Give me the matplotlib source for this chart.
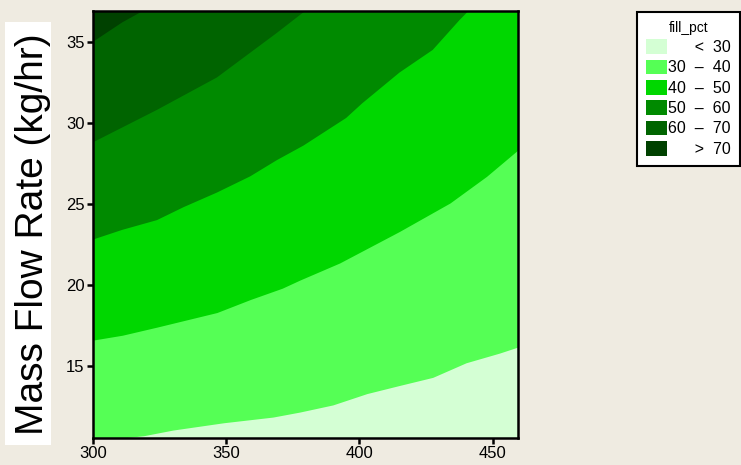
import numpy as np
import matplotlib
matplotlib.use("Agg")
import matplotlib.pyplot as plt
from matplotlib.patches import Patch, Rectangle

# contour boundaries (screw speed, mass flow rate)
x_b30 = [300, 311, 319, 330, 349, 367.5, 377.6, 390, 402.8, 415, 427.5, 440, 452.6, 460]
y_b30 = [10.3, 10.56, 10.7, 11.05, 11.5, 11.85, 12.16, 12.6, 13.3, 13.8, 14.3, 15.2, 15.8, 16.2]

x_b40 = [300, 311, 324, 334, 346.5, 359, 371, 377.6, 392.6, 415, 434, 447.7, 460]
y_b40 = [16.6, 16.9, 17.4, 17.8, 18.3, 19.1, 19.8, 20.3, 21.36, 23.3, 25.06, 26.7, 28.4]

x_b50 = [300, 311, 324, 334, 346.5, 359, 369, 379, 395, 401, 415, 427.5, 437.6, 440.3, 445, 460]
y_b50 = [22.8, 23.4, 24.0, 24.8, 25.7, 26.7, 27.7, 28.6, 30.3, 31.2, 33.1, 34.5, 36.35, 36.8, 37.5, 38]

x_b60 = [300, 324, 346.5, 369, 378.8, 385, 460]
y_b60 = [28.8, 30.8, 32.8, 35.55, 36.8, 37.5, 38]

x_b70 = [300, 311, 317.6, 322, 460]
y_b70 = [35.0, 36.2, 36.8, 37.5, 38]

levels = ["<30", "30-40", "40-50", "50-60", "60-70", ">70"]
labels = ["\u2007\u2007  <  30", "30  \u2013  40", "40  \u2013  50",
          "50  \u2013  60", "60  \u2013  70", "\u2007\u2007  >  70"]
colors = ["#D4FFD4", "#55FF55", "#00D700", "#008A00", "#006400", "#004100"]

bg = "#EFEBE1"
fig = plt.figure(figsize=(7.41, 4.65), dpi=100, facecolor=bg)
ax = fig.add_axes([93/741, 1-438/465, (518-93)/741, (438-11)/465])

ax.set_facecolor(colors[5])
ax.fill_between(x_b70, y_b70, 0, color=colors[4], lw=0)
ax.fill_between(x_b60, y_b60, 0, color=colors[3], lw=0)
ax.fill_between(x_b50, y_b50, 0, color=colors[2], lw=0)
ax.fill_between(x_b40, y_b40, 0, color=colors[1], lw=0)
ax.fill_between(x_b30, y_b30, 0, color=colors[0], lw=0)

ax.set_xlim(300, 459.5)
ax.set_ylim(10.56, 36.9)
ax.set_xticks([300, 350, 400, 450])
ax.set_yticks([15, 20, 25, 30, 35])
for s in ax.spines.values():
    s.set_linewidth(1.8)
ax.tick_params(direction="out", length=4, width=1.8, labelsize=12, pad=2)
for t in ax.get_xticklabels() + ax.get_yticklabels():
    t.set_family("Liberation Sans")

# y label with white box
fig.patches.append(Rectangle((5/741, 1-445/465), 46/741, 423/465,
                             transform=fig.transFigure, facecolor="white",
                             edgecolor="none", zorder=0))
fig.text(43/741, 1-234/465, "Mass Flow Rate (kg/hr)", rotation=90,
         rotation_mode="anchor", ha="center", va="baseline",
         fontsize=28, family="Liberation Sans")

handles = [Patch(facecolor=c, edgecolor="none") for c in colors]
leg = fig.legend(handles, labels, title="fill_pct", loc="upper left",
                 bbox_to_anchor=(637/741, 1-12/465), borderaxespad=0,
                 prop={"family": ["Liberation Sans", "DejaVu Sans"], "size": 11.5},
                 title_fontproperties={"family": "Liberation Sans", "size": 10},
                 handlelength=1.3, handleheight=1.05, handletextpad=0.1,
                 labelspacing=0.28, borderpad=0.55, fancybox=False,
                 framealpha=1, facecolor="white", edgecolor="black")
leg.get_frame().set_linewidth(1.5)

fig.savefig("out.png", dpi=100, facecolor=bg)
